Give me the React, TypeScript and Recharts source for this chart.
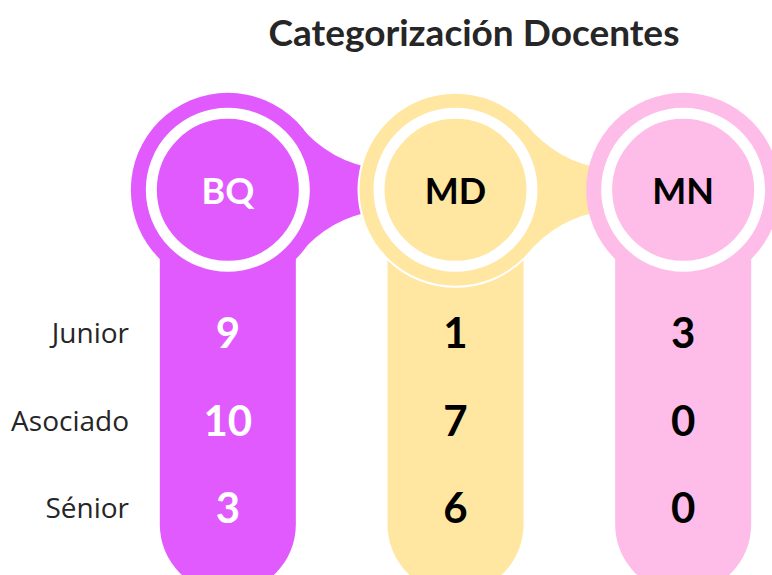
import { ScatterChart, Scatter, XAxis, YAxis } from "recharts";

const groups = ["BQ", "MD", "MN"];
const levels = ["Junior", "Asociado", "Sénior"];
const bqValues = [9, 10, 3];
const mdValues = [1, 7, 6];
const mnValues = [3, 0, 0];

const fills = ["#E05AFD", "#FFE6A1", "#FDBDE8"];
const inkColors = ["#FFFFFF", "#000000", "#000000"];
const font = "Lato, 'Open Sans', sans-serif";

const seriesValues = [bqValues, mdValues, mnValues];

const cells = groups.flatMap((group, gi) =>
  levels.map((level, li) => ({ group, level, gi, value: seriesValues[gi][li] }))
);

// one point per teacher group, anchored on the first row
const columns = groups.map((group, gi) => ({ group, level: levels[0], gi }));

function ColumnShape(props: any) {
  const { cx, cy, payload } = props;
  const gi = payload.gi;
  const fill = fills[gi];
  const oy = cy - 142; // circle centre
  const half = 68;
  const bottom = cy + 193;
  const isLast = gi === groups.length - 1;
  const col = `M${cx - half},${oy} L${cx + half},${oy} L${cx + half},${bottom} A${half},${half} 0 0 1 ${cx - half},${bottom} Z`;
  const neck =
    `M${cx + 70},${oy - 66} Q${cx + 102},${oy - 27} ${cx + 150},${oy - 21} ` +
    `L${cx + 150},${oy + 21} Q${cx + 102},${oy + 27} ${cx + 70},${oy + 66} Z`;
  return (
    <g>
      <path d={col} fill={fill} />
      <circle
        cx={cx}
        cy={oy}
        r={97}
        fill={fill}
        stroke={gi === 1 ? "#FFFFFF" : "none"}
        strokeWidth={2}
      />
      {!isLast && <path d={neck} fill={fill} />}
      <circle cx={cx} cy={oy} r={76.5} fill={fill} stroke="#FFFFFF" strokeWidth={11} />
      <text
        x={cx}
        y={oy}
        textAnchor="middle"
        dominantBaseline="central"
        fontFamily={font}
        fontWeight={700}
        fontSize={36}
        fill={inkColors[gi]}
      >
        {payload.group}
      </text>
    </g>
  );
}

function ValueShape(props: any) {
  const { cx, cy, payload } = props;
  return (
    <text
      x={cx}
      y={cy}
      textAnchor="middle"
      dominantBaseline="central"
      fontFamily={font}
      fontWeight={700}
      fontSize={42}
      fill={inkColors[payload.gi]}
    >
      {payload.value}
    </text>
  );
}

function LevelTick(props: any) {
  const { x, y, payload } = props;
  return (
    <text
      x={x + 15}
      y={y}
      textAnchor="end"
      dominantBaseline="central"
      fontFamily="'Open Sans', sans-serif"
      fontSize={28}
      fill="#262626"
    >
      {payload.value}
    </text>
  );
}

export default function App() {
  return (
    <div
      style={{
        position: "absolute",
        left: 0,
        top: 0,
        width: 772,
        height: 575,
        overflow: "hidden",
        background: "#FFFFFF",
      }}
    >
      <div
        style={{
          position: "absolute",
          left: 0,
          width: 948,
          top: 8,
          lineHeight: "48px",
          textAlign: "center",
          fontFamily: font,
          fontWeight: 700,
          fontSize: 37,
          color: "#262626",
        }}
      >
        Categorización Docentes
      </div>
      <ScatterChart width={800} height={575} margin={{ top: 288, right: 3, bottom: 24, left: 0 }}>
        <XAxis type="category" dataKey="group" allowDuplicatedCategory={false} hide />
        <YAxis
          type="category"
          dataKey="level"
          allowDuplicatedCategory={false}
          reversed
          width={114}
          axisLine={false}
          tickLine={false}
          tickSize={0}
          tickMargin={0}
          tick={<LevelTick />}
        />
        <Scatter data={columns} shape={<ColumnShape />} isAnimationActive={false} />
        <Scatter data={cells} shape={<ValueShape />} isAnimationActive={false} />
      </ScatterChart>
    </div>
  );
}
